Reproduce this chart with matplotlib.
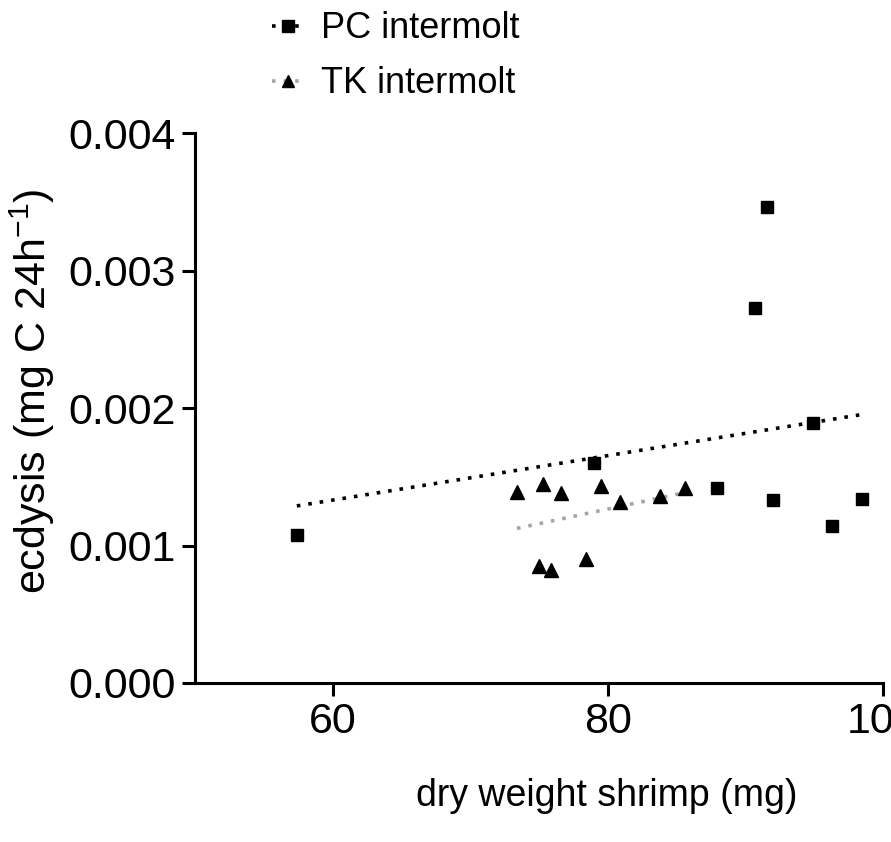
import numpy as np
import matplotlib
matplotlib.use('Agg')
import matplotlib.pyplot as plt
from matplotlib.ticker import FormatStrFormatter

# data
pc_weight = [57.4, 79.0, 87.9, 90.7, 91.6, 92.0, 94.9, 96.3, 98.5]
pc_ecdysis = [0.00108, 0.00160, 0.00142, 0.00273, 0.00346, 0.00133, 0.00189, 0.00114, 0.00134]
tk_weight = [73.4, 75.3, 76.6, 79.5, 80.9, 83.8, 85.6, 75.0, 75.9, 78.4]
tk_ecdysis = [0.00139, 0.00145, 0.00138, 0.00143, 0.00132, 0.00136, 0.00142, 0.00085, 0.00082, 0.00090]
x_ticks = [60, 80, 100]
y_ticks = [0.000, 0.001, 0.002, 0.003, 0.004]

plt.rcParams['font.family'] = ['Liberation Sans', 'DejaVu Sans']
plt.rcParams['mathtext.default'] = 'regular'

fig = plt.figure(figsize=(8.91, 8.42), dpi=100)
ax = fig.add_axes([195/891, 1-683/842, 688/891, 550/842])

# regression lines
def fit_line(xs, ys):
    k, b = np.polyfit(xs, ys, 1)
    xx = np.array([min(xs), max(xs)])
    return xx, k*xx + b

dots = (0, (1, 2.2))
px, py = fit_line(pc_weight, pc_ecdysis)
tx, ty = fit_line(tk_weight, tk_ecdysis)
ax.plot(px, py, color='black', lw=2.6, linestyle=dots, dash_capstyle='butt', zorder=2)
ax.plot(tx, ty, color='#a6a6a6', lw=2.6, linestyle=dots, dash_capstyle='butt', zorder=2)

ax.plot(pc_weight, pc_ecdysis, 's', color='black', ms=9, zorder=3)
ax.plot(tk_weight, tk_ecdysis, '^', color='black', ms=10, zorder=3)

# legend handles
h1, = ax.plot([], [], color='black', lw=2.6, linestyle=dots, marker='s', ms=8, label='PC intermolt')
h2, = ax.plot([], [], color='#a6a6a6', lw=2.6, linestyle=dots, marker='^', ms=8,
              mfc='black', mec='black', label='TK intermolt')
fig.legend(handles=[h1, h2], loc='upper left', bbox_to_anchor=(254/891, 1.008), frameon=False,
           fontsize=26, handlelength=0.9, handletextpad=0.45, labelspacing=0.55, borderaxespad=0.1)

ax.set_xlim(50, 100)
ax.set_ylim(0, 0.004)
ax.set_xticks(x_ticks)
ax.set_yticks(y_ticks)
ax.yaxis.set_major_formatter(FormatStrFormatter('%.3f'))
ax.tick_params(direction='out', length=9.5, width=2.2, labelsize=31, pad=4)
for s in ['top', 'right']:
    ax.spines[s].set_visible(False)
for s in ['left', 'bottom']:
    ax.spines[s].set_linewidth(2.2)

ax.set_xlabel('dry weight shrimp (mg)', fontsize=27)
ax.xaxis.set_label_coords(0.599, -0.172)
ax.set_ylabel('ecdysis (mg C 24h$^{-1}$)', fontsize=31)
ax.yaxis.set_label_coords(-0.2, 0.53)

fig.savefig('out.png', dpi=100)
